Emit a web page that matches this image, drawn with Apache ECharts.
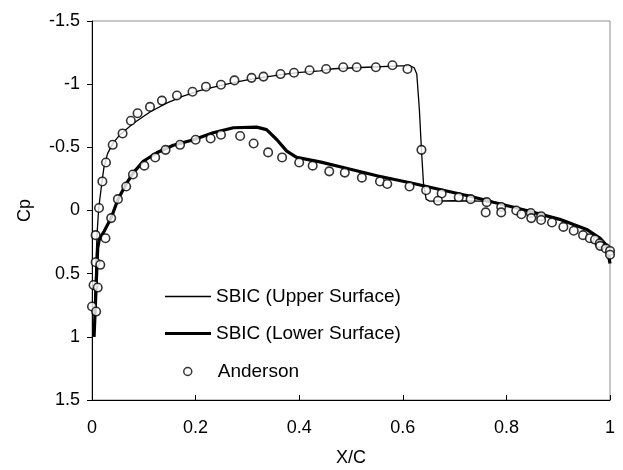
<!DOCTYPE html>
<html>
<head>
<meta charset="utf-8">
<script src="https://cdn.jsdelivr.net/npm/echarts@6/dist/echarts.min.js"></script>
<style>html,body{margin:0;padding:0;background:#fff}#c{width:623px;height:470px}</style>
</head>
<body>
<div id="c"></div>
<script>
// SBIC upper surface
const upperX  = [0.004,0.006,0.0097,0.013,0.019,0.023,0.030,0.040,0.054,0.080,0.112,0.144,0.176,0.208,0.241,0.273,0.305,0.337,0.369,0.402,0.440,0.466,0.530,0.595,0.614,0.622,0.627,0.632,0.636,0.640,0.645,0.651,0.700,0.750,0.780,0.840,0.900,0.955,0.981,0.994,1.000];
const upperCp = [1.00,0.60,0.19,-0.02,-0.22,-0.34,-0.45,-0.53,-0.60,-0.69,-0.78,-0.85,-0.905,-0.948,-0.982,-1.012,-1.038,-1.058,-1.077,-1.093,-1.105,-1.122,-1.134,-1.145,-1.145,-1.13,-1.08,-0.80,-0.48,-0.21,-0.09,-0.075,-0.077,-0.074,-0.06,0.0,0.065,0.15,0.22,0.28,0.38];
// SBIC lower surface
const lowerX  = [0.004,0.008,0.011,0.014,0.024,0.037,0.050,0.066,0.080,0.099,0.125,0.157,0.196,0.234,0.273,0.318,0.337,0.357,0.376,0.395,0.440,0.485,0.550,0.614,0.678,0.730,0.775,0.839,0.903,0.955,0.981,0.994,1.000];
const lowerCp = [1.00,0.60,0.30,0.23,0.16,0.058,-0.087,-0.21,-0.30,-0.39,-0.457,-0.517,-0.56,-0.615,-0.655,-0.66,-0.64,-0.56,-0.47,-0.42,-0.385,-0.34,-0.275,-0.22,-0.16,-0.113,-0.065,0.0,0.07,0.15,0.22,0.28,0.42];
// Anderson experimental data
const andersonX  = [0.000,0.008,0.003,0.011,0.007,0.016,0.007,0.026,0.0135,0.020,0.027,0.040,0.059,0.075,0.088,0.112,0.135,0.164,0.194,0.220,0.249,0.275,0.308,0.331,0.364,0.390,0.420,0.452,0.485,0.511,0.548,0.580,0.609,0.636,
  0.037,0.050,0.066,0.079,0.101,0.122,0.142,0.170,0.200,0.229,0.249,0.286,0.312,0.340,0.367,0.400,0.426,0.458,0.488,0.521,0.556,0.570,0.613,0.645,0.675,0.668,0.708,0.731,0.762,0.760,0.790,0.790,0.819,0.829,0.847,0.848,0.867,0.867,0.888,0.910,0.930,0.948,0.961,0.971,0.980,0.981,0.992,1.000,1.000];
const andersonCp = [0.76,0.80,0.59,0.61,0.41,0.43,0.195,0.22,-0.02,-0.23,-0.38,-0.52,-0.61,-0.71,-0.77,-0.82,-0.87,-0.91,-0.94,-0.98,-0.995,-1.03,-1.05,-1.06,-1.08,-1.09,-1.11,-1.12,-1.134,-1.134,-1.134,-1.15,-1.12,-0.48,
  0.06,-0.09,-0.19,-0.285,-0.355,-0.42,-0.48,-0.52,-0.56,-0.57,-0.60,-0.59,-0.53,-0.46,-0.42,-0.38,-0.355,-0.31,-0.30,-0.26,-0.23,-0.21,-0.19,-0.16,-0.135,-0.077,-0.105,-0.09,-0.066,0.015,-0.028,0.015,0.0,0.03,0.02,0.06,0.045,0.075,0.095,0.13,0.16,0.195,0.22,0.23,0.26,0.28,0.30,0.32,0.35];
const xTicks = [0, 0.2, 0.4, 0.6, 0.8, 1];
const yTicks = [-1.5, -1, -0.5, 0, 0.5, 1, 1.5];

const zip = (a, b) => a.map((v, i) => [v, b[i]]);
const FONT = "'Liberation Sans', Arial, sans-serif";
const chart = echarts.init(document.getElementById('c'), null, {renderer: 'canvas'});
const legendBase = {
  orient: 'horizontal', itemGap: 0, padding: 0,
  textStyle: {fontFamily: FONT, fontSize: 19, color: '#000'},
  selectedMode: false
};
chart.setOption({
  animation: false,
  backgroundColor: '#fff',
  grid: {left: 92, right: 13, top: 21, bottom: 70, show: true, borderColor: '#8c8c8c', borderWidth: 1,
         containLabel: false, outerBoundsMode: 'none'},
  xAxis: {
    type: 'value', min: xTicks[0], max: xTicks[xTicks.length-1], interval: 0.2,
    name: 'X/C', nameLocation: 'middle', nameGap: 49,
    nameTextStyle: {fontFamily: FONT, fontSize: 18, color: '#000'},
    axisLine: {show: true, onZero: false, lineStyle: {color: '#000', width: 1}},
    axisTick: {show: true, inside: true, length: 5, lineStyle: {color: '#000'}},
    axisLabel: {fontFamily: FONT, fontSize: 18, color: '#000', margin: 19},
    splitLine: {show: false}
  },
  yAxis: {
    type: 'value', inverse: true, min: yTicks[0], max: yTicks[yTicks.length-1], interval: 0.5,
    name: 'Cp', nameLocation: 'middle', nameGap: 58,
    nameTextStyle: {fontFamily: FONT, fontSize: 18, color: '#000'},
    axisLine: {show: true, onZero: false, lineStyle: {color: '#000', width: 1}},
    axisTick: {show: true, inside: false, length: 5, lineStyle: {color: '#000'}},
    axisLabel: {fontFamily: FONT, fontSize: 18, color: '#000', margin: 12},
    splitLine: {show: false}
  },
  legend: [
    Object.assign({}, legendBase, {data: [{name: 'SBIC (Upper Surface)', icon: 'rect'}], left: 165, top: 287,
      itemWidth: 46, itemHeight: 1.3, itemStyle: {color: '#000', borderWidth: 0}}),
    Object.assign({}, legendBase, {data: [{name: 'SBIC (Lower Surface)', icon: 'rect'}], left: 165, top: 324,
      itemWidth: 46, itemHeight: 3.2, itemStyle: {color: '#000', borderWidth: 0}}),
    Object.assign({}, legendBase, {data: [{name: 'Anderson', icon: 'circle'}], left: 183, top: 362,
      itemWidth: 8, itemHeight: 8, textStyle: {fontFamily: FONT, fontSize: 19, color: '#000', padding: [0,0,0,21]},
      itemStyle: {color: '#fff', borderColor: '#000', borderWidth: 1.5}})
  ],
  series: [
    {name: 'SBIC (Upper Surface)', type: 'line', data: zip(upperX, upperCp), symbol: 'none',
     lineStyle: {color: '#000', width: 1.3}, itemStyle: {color: '#000'}, z: 2},
    {name: 'SBIC (Lower Surface)', type: 'line', data: zip(lowerX, lowerCp), symbol: 'none',
     lineStyle: {color: '#000', width: 3.2}, itemStyle: {color: '#000'}, z: 2},
    {name: 'Anderson', type: 'scatter', data: zip(andersonX, andersonCp), symbol: 'circle', symbolSize: 8.5,
     itemStyle: {color: '#fff', borderColor: '#000', borderWidth: 1.6}, z: 3}
  ]
});
</script>
</body>
</html>
